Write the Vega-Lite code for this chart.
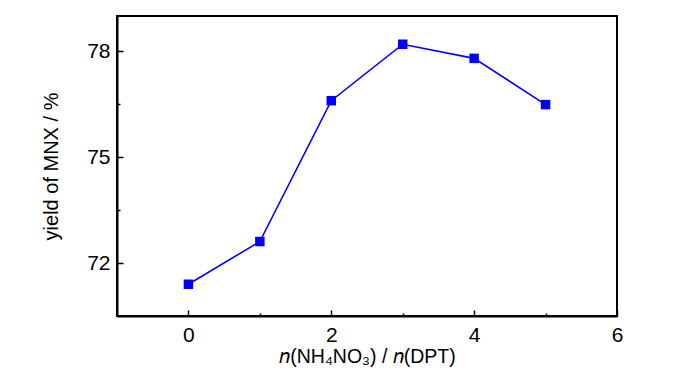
{
  "$schema": "https://vega.github.io/schema/vega-lite/v6.json",
  "autosize": {"type": "none"},
  "padding": {"left": 117, "top": 16, "right": 83, "bottom": 58},
  "width": 500,
  "height": 300,
  "background": "white",
  "config": {
    "view": {"stroke": "black", "strokeWidth": 2},
    "font": "Liberation Sans",
    "axis": {
      "domainColor": "black",
      "domainWidth": 2,
      "tickColor": "black",
      "tickWidth": 1.5,
      "grid": false,
      "labelFont": "Liberation Sans",
      "labelFontSize": 21,
      "labelColor": "black",
      "titleFont": "Liberation Sans",
      "titleFontWeight": "normal",
      "titleColor": "black"
    }
  },
  "data": {
    "values": [
      {"ratio": 0, "yield": 71.40},
      {"ratio": 1, "yield": 72.61},
      {"ratio": 2, "yield": 76.60},
      {"ratio": 3, "yield": 78.20},
      {"ratio": 4, "yield": 77.80},
      {"ratio": 5, "yield": 76.49}
    ]
  },
  "encoding": {
    "x": {
      "field": "ratio",
      "type": "quantitative",
      "scale": {"domain": [-1, 6], "nice": false, "zero": false},
      "axis": {
        "values": [0, 1, 2, 3, 4, 5, 6],
        "labelExpr": "datum.value % 2 === 0 ? datum.label : ''",
        "tickSize": {"condition": {"test": "datum.value % 2 !== 0", "value": -3}, "value": -6},
        "labelPadding": 14,
        "labelFlush": false,
        "title": "𝑛(NH₄NO₃) / 𝑛(DPT)",
        "titleFontSize": 19.5,
        "titlePadding": 2
      }
    },
    "y": {
      "field": "yield",
      "type": "quantitative",
      "scale": {"domain": [70.5, 79], "nice": false, "zero": false},
      "axis": {
        "values": [72, 73.5, 75, 76.5, 78],
        "labelExpr": "datum.value % 3 === 0 ? datum.label : ''",
        "tickSize": {"condition": {"test": "datum.value % 3 !== 0", "value": -3}, "value": -6},
        "labelPadding": 13,
        "title": "yield of MNX / %",
        "titleFontSize": 20,
        "titlePadding": 25
      }
    }
  },
  "layer": [
    {"mark": {"type": "line", "color": "#0000FF", "strokeWidth": 1.6}},
    {"mark": {"type": "square", "color": "#0000FF", "opacity": 1, "size": 90, "filled": true}}
  ]
}
